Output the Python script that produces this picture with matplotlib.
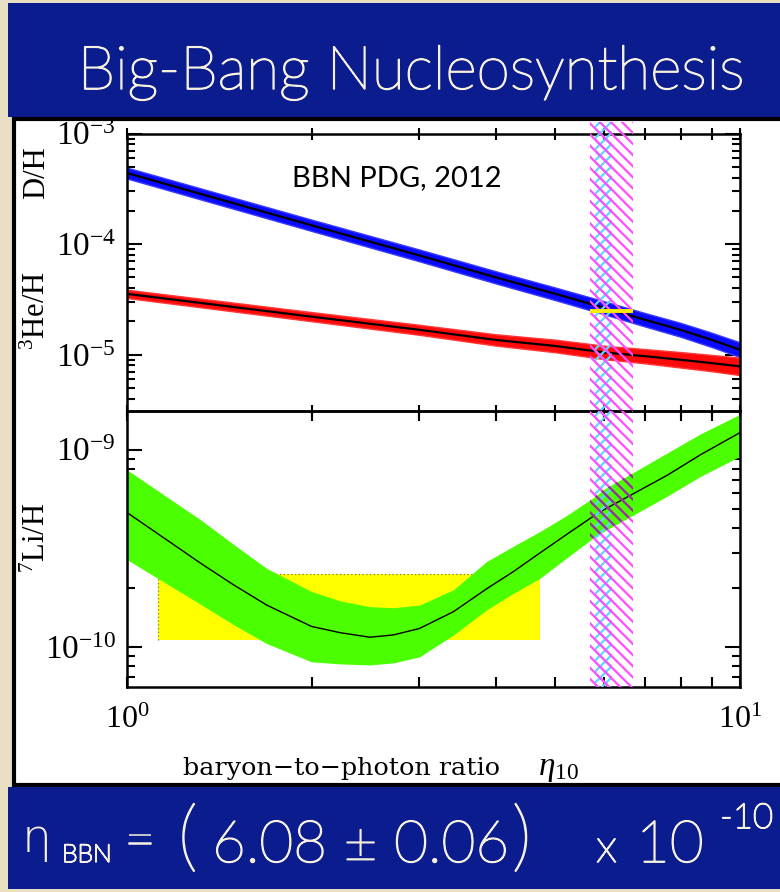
import matplotlib
matplotlib.use("Agg")
import matplotlib.pyplot as plt
import matplotlib.patheffects as pe
from matplotlib.patches import Rectangle
from matplotlib.ticker import LogLocator, NullFormatter

plt.rcParams.update({
    "font.family": ["Liberation Serif", "DejaVu Serif"],
    "mathtext.fontset": "custom",
    "mathtext.rm": "Liberation Serif",
    "mathtext.it": "Liberation Serif:italic",
    "mathtext.bf": "Liberation Serif:bold",
    "hatch.linewidth": 1.6,
})

# Predicted primordial abundances vs. baryon-to-photon ratio eta_10
eta = [1, 2, 3, 4, 5, 6, 7, 8, 9, 10]
d_h = [4.39e-4, 1.48e-4, 7.9e-5, 5.0e-5, 3.55e-5, 2.66e-5, 2.07e-5, 1.68e-5, 1.36e-5, 1.11e-5]
d_h_err = [0.12, 0.125, 0.13, 0.135, 0.14, 0.145, 0.15, 0.155, 0.16, 0.165]
he3_h = [3.55e-5, 2.21e-5, 1.68e-5, 1.36e-5, 1.2e-5, 1.05e-5, 9.7e-6, 9.0e-6, 8.4e-6, 7.85e-6]
he3_h_err = [0.09, 0.10, 0.11, 0.125, 0.14, 0.15, 0.16, 0.175, 0.185, 0.20]

li_eta = [1.0, 1.32, 1.49, 1.69, 2.0, 2.23, 2.49, 2.72, 3.0, 3.41, 3.86, 4.27, 4.72,
          5.21, 5.76, 6.0, 7.6, 8.61, 10.0]
li_h = [4.8e-10, 2.65e-10, 2.07e-10, 1.63e-10, 1.27e-10, 1.18e-10, 1.12e-10, 1.15e-10,
        1.24e-10, 1.51e-10, 1.97e-10, 2.41e-10, 3.0e-10, 3.71e-10, 4.59e-10, 4.96e-10,
        7.4e-10, 9.4e-10, 1.22e-9]
li_h_hi = [7.9e-10, 4.4e-10, 3.32e-10, 2.5e-10, 1.91e-10, 1.71e-10, 1.6e-10, 1.58e-10,
           1.63e-10, 1.95e-10, 2.71e-10, 3.24e-10, 3.85e-10, 4.63e-10, 5.7e-10, 6.3e-10,
           9.6e-10, 1.2e-9, 1.51e-9]
li_h_lo = [2.77e-10, 1.64e-10, 1.3e-10, 1.04e-10, 8.4e-11, 8.2e-11, 8.1e-11, 8.3e-11,
           8.9e-11, 1.15e-10, 1.54e-10, 1.87e-10, 2.23e-10, 2.82e-10, 3.56e-10, 3.85e-10,
           5.8e-10, 7.3e-10, 9.25e-10]

# Observational constraints
d_h_obs = 2.51e-5
li_box_eta = (1.125, 4.71)
li_box_h = (1.09e-10, 2.34e-10)
eta_cmb = (5.8, 6.18)
eta_bbn = (5.69, 6.69)

W, H = 780, 892
BANNER = "#0b1c8e"
CREAM = "#f6f1df"
PAPER = "#e9dfc4"

fig = plt.figure(figsize=(W / 100, H / 100), dpi=100)
fig.patch.set_facecolor(PAPER)


def fx(x):
    return x / W


def fy(y):
    return 1 - y / H


# slide backdrop: title banner, white plot panel, formula banner
fig.add_artist(Rectangle((fx(8), fy(117)), fx(790 - 8), (117 - 3) / H,
                         transform=fig.transFigure, facecolor=BANNER, edgecolor="none", zorder=-10))
fig.add_artist(Rectangle((fx(14), fy(785)), fx(800 - 14), (785 - 119) / H,
                         transform=fig.transFigure, facecolor="white", edgecolor="black",
                         linewidth=3.0, zorder=-9))
fig.add_artist(Rectangle((fx(8), fy(889)), fx(790 - 8), (889 - 787) / H,
                         transform=fig.transFigure, facecolor=BANNER, edgecolor="none", zorder=-8))

ax1 = fig.add_axes([fx(127), fy(411), fx(740 - 127), (411 - 133.5) / H])
ax2 = fig.add_axes([fx(127), fy(686.5), fx(740 - 127), (686.5 - 411) / H])

for ax in (ax1, ax2):
    ax.set_facecolor("none")
    ax.set_xscale("log")
    ax.set_yscale("log")
    ax.set_xlim(1, 10)
    for s in ax.spines.values():
        s.set_linewidth(1.8)
    ax.yaxis.set_minor_locator(LogLocator(base=10, subs=range(2, 10)))
    ax.yaxis.set_minor_formatter(NullFormatter())
    ax.xaxis.set_minor_formatter(NullFormatter())
    ax.tick_params(axis="y", which="major", direction="in", length=11, width=1.5,
                   left=True, right=True, labelsize=24, pad=8)
    ax.tick_params(axis="y", which="minor", direction="in", length=5.5, width=1.5,
                   left=True, right=True)

ax1.set_ylim(3.1e-6, 1e-3)
ax2.set_ylim(6.3e-11, 1.57e-9)
ax1.tick_params(axis="x", which="both", direction="inout", length=9, width=1.5,
                top=True, bottom=True, labelbottom=False)
ax2.tick_params(axis="x", which="both", direction="in", length=7, width=1.5,
                top=True, bottom=True, labelsize=23, pad=14)

# --- upper panel: D/H and 3He/H
d_lo = [v / (1 + e) for v, e in zip(d_h, d_h_err)]
d_hi = [v * (1 + e) for v, e in zip(d_h, d_h_err)]
ax1.fill_between(eta, d_lo, d_hi, color="#0a0aff", linewidth=1.0, edgecolor="#3a3aff", zorder=2)
ax1.plot(eta, d_h, color="black", linewidth=1.6, zorder=3)

he_lo = [v / (1 + e) for v, e in zip(he3_h, he3_h_err)]
he_hi = [v * (1 + e) for v, e in zip(he3_h, he3_h_err)]
ax1.fill_between(eta, he_lo, he_hi, color="#ff0a0a", linewidth=1.0, edgecolor="#ff3a3a", zorder=2)
ax1.plot(eta, he3_h, color="black", linewidth=1.6, zorder=3)

ax1.plot(eta_bbn, [d_h_obs, d_h_obs], color="#ffee00", linewidth=2.8,
         solid_capstyle="butt", zorder=5)

ax1.text(0.44, 0.84, "BBN PDG, 2012", transform=ax1.transAxes, ha="center", va="center",
         fontsize=21, family=["Lato", "DejaVu Sans"], color="black")

# --- lower panel: 7Li/H
ax2.add_patch(Rectangle((li_box_eta[0], li_box_h[0]), li_box_eta[1] - li_box_eta[0],
                        li_box_h[1] - li_box_h[0], facecolor="#ffff00", edgecolor="none", zorder=1))
ax2.plot([li_box_eta[0], li_box_eta[0], li_box_eta[1]],
         [li_box_h[0], li_box_h[1], li_box_h[1]], color="#777777", linestyle=(0, (1, 2)),
         linewidth=0.9, zorder=1.5)
ax2.fill_between(li_eta, li_h_lo, li_h_hi, color="#4cff00", linewidth=0, zorder=2)
ax2.plot(li_eta, li_h, color="black", linewidth=1.0, zorder=3)

# --- eta bands (CMB and BBN concordance), hatched across both panels
for ax, top in ((ax1, 1.04), (ax2, 1.0)):
    tr = ax.get_xaxis_transform()
    ax.add_patch(Rectangle((eta_cmb[0], 0), eta_cmb[1] - eta_cmb[0], top, transform=tr,
                           facecolor="none", edgecolor="#5ad8ff", hatch="xxx", linewidth=0,
                           clip_on=False, zorder=4))
    ax.add_patch(Rectangle((eta_bbn[0], 0), eta_bbn[1] - eta_bbn[0], top, transform=tr,
                           facecolor="none", edgecolor="#ff4dff", hatch="\\\\\\", linewidth=0,
                           clip_on=False, zorder=4))

# darker hatching where the BBN band crosses the lithium band
sel = [i for i, e in enumerate(li_eta) if 5.0 <= e <= 7.6]
ov = ax2.fill_between([li_eta[i] for i in sel], [li_h_lo[i] for i in sel],
                      [li_h_hi[i] for i in sel], facecolor="none", edgecolor="#8a3a8a",
                      hatch="\\\\\\", linewidth=0, zorder=4.5)
ov.set_clip_path(Rectangle((eta_bbn[0], 0), eta_bbn[1] - eta_bbn[0], 1,
                           transform=ax2.get_xaxis_transform()))

# axis titles
lab_kw = dict(rotation=90, ha="center", va="center", fontsize=22)
fig.text(fx(37), fy(173), "D/H", **lab_kw)
fig.text(fx(37), fy(311), r"${}^{3}$He/H", **lab_kw)
fig.text(fx(37), fy(538), r"${}^{7}$Li/H", **lab_kw)
fig.text(fx(183), fy(775), "baryon\u2212to\u2212photon ratio", ha="left",
         va="baseline", fontsize=18.3, family="DejaVu Serif")
fig.text(fx(538), fy(775), r"$\eta_{10}$", ha="left", va="baseline", fontsize=24)

# banner texts (light face, slightly thickened with a matching stroke)
thick = [pe.withStroke(linewidth=1.1, foreground=CREAM)]
hand = dict(color=CREAM, family=["Lato", "DejaVu Sans"], fontweight="light",
            path_effects=thick)
fig.text(fx(411), fy(89), "Big-Bang Nucleosynthesis", ha="center", va="baseline",
         fontsize=43.5, **hand)
fig.text(fx(22), fy(852), "\u03b7", ha="left", va="baseline", fontsize=34, color=CREAM,
         family="DejaVu Sans", fontweight="light")
fig.text(fx(62), fy(862), "BBN", ha="left", va="baseline", fontsize=18, **hand)
fig.text(fx(124), fy(858), "=", ha="left", va="baseline", fontsize=40, **hand)
fig.text(fx(178), fy(862), "(", ha="left", va="baseline", fontsize=56, **hand)
fig.text(fx(212), fy(862), "6.08 \u00b1 0.06", ha="left", va="baseline", fontsize=42, **hand)
fig.text(fx(512), fy(862), ")", ha="left", va="baseline", fontsize=56, **hand)
fig.text(fx(596), fy(862), "x", ha="left", va="baseline", fontsize=34, **hand)
fig.text(fx(636), fy(862), "10", ha="left", va="baseline", fontsize=42, **hand)
fig.text(fx(720), fy(828), "-10", ha="left", va="baseline", fontsize=25, **hand)

fig.savefig("out.png", dpi=100, facecolor=PAPER)
